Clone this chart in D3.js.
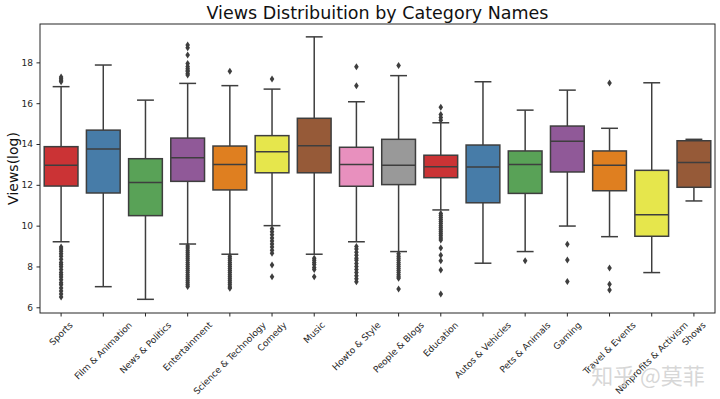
<!DOCTYPE html>
<html><head><meta charset="utf-8">
<script src="https://cdn.jsdelivr.net/npm/d3@7"></script>
<style>body{margin:0;background:#fff}svg{display:block}text{font-family:"DejaVu Sans",sans-serif}</style>
</head><body><svg id="c" width="720" height="399"></svg>
<script>
const categories = ["Sports","Film & Animation","News & Politics","Entertainment","Science & Technology","Comedy","Music","Howto & Style","People & Blogs","Education","Autos & Vehicles","Pets & Animals","Gaming","Travel & Events","Nonprofits & Activism","Shows"];
const whiskerLow  = [9.21, 7.01, 6.39, 9.10, 8.60, 10.00, 8.60, 9.21, 8.73, 10.77, 8.16, 8.73, 9.98, 9.46, 7.70, 11.21];
const q1          = [11.94,11.60,10.49,12.17,11.75,12.59,12.59,11.93,12.01,12.35,11.12,11.58,12.63,11.71,9.48,11.88];
const medians     = [12.96,13.75,12.12,13.33,12.99,13.62,13.92,12.99,12.96,12.89,12.87,12.99,14.13,12.96,10.54,13.10];
const q3          = [13.87,14.68,13.28,14.29,13.90,14.41,15.26,13.84,14.23,13.45,13.95,13.66,14.88,13.66,12.71,14.16];
const whiskerHigh = [16.81,17.87,16.15,16.97,16.86,16.69,19.25,16.07,17.35,15.04,17.05,15.66,16.64,14.77,17.00,14.23];
const outliers = [
  [17.05,17.12,17.2,17.28,8.95,8.85,8.75,8.62,8.5,8.35,8.2,8.1,7.98,7.85,7.7,7.6,7.48,7.35,7.2,7.1,6.95,6.8,6.65,6.5],
  [],
  [],
  [17.38,17.45,17.55,17.62,17.7,17.8,17.95,18.36,18.72,18.85,9.0,8.9,8.8,8.7,8.6,8.5,8.4,8.3,8.2,8.1,8.0,7.9,7.8,7.7,7.6,7.5,7.4,7.3,7.2,7.1,7.02],
  [17.57,8.5,8.4,8.3,8.2,8.1,8.0,7.9,7.8,7.7,7.6,7.5,7.4,7.3,7.2,7.1,7.0,6.93],
  [17.18,9.85,9.7,9.55,9.4,9.25,9.1,8.95,8.8,8.65,8.07,7.5],
  [8.4,8.3,8.2,8.1,7.95,7.85,7.5],
  [17.78,16.86,8.98,8.85,8.7,8.55,8.4,8.3,8.15,8.0,7.85,7.7,7.55,7.4,7.25],
  [17.85,8.62,8.5,8.4,8.3,8.2,8.1,8.0,7.9,7.8,7.7,7.6,7.5,7.42,6.9],
  [15.8,15.45,15.3,15.17,10.6,10.5,10.4,10.3,10.2,10.1,10.0,9.9,9.8,9.7,9.6,9.5,9.4,9.3,8.9,8.55,8.28,7.83,6.65],
  [],
  [8.28],
  [9.09,8.32,7.26],
  [16.99,7.93,7.13,6.85],
  [],
  []
];
const yTicks = [6,8,10,12,14,16,18];
const palette = ["#e41a1c","#377eb8","#4daf4a","#984ea3","#ff7f00","#ffff33","#a65628","#f781bf","#999999"];

const W=720,H=399, m={l:40,r:5,t:24,b:86};
const svg=d3.select("#c");
const x=d3.scaleBand().domain(categories).range([m.l,W-m.r]).padding(0);
const y=d3.scaleLinear().domain([5.72,19.88]).range([H-m.b,m.t]);
const lineC="#3e3e3e";
const colorOf=i=>{const h=d3.hsl(palette[i%palette.length]);h.s*=0.75;return h.formatHex();};

const bw=x.bandwidth()*0.8, cw=bw*0.5;
const g=svg.append("g");
categories.forEach((c,i)=>{
  const cx=x(c)+x.bandwidth()/2;
  const gg=g.append("g");
  gg.append("line").attr("x1",cx).attr("x2",cx).attr("y1",y(q3[i])).attr("y2",y(whiskerHigh[i])).attr("stroke",lineC).attr("stroke-width",1.5);
  gg.append("line").attr("x1",cx).attr("x2",cx).attr("y1",y(q1[i])).attr("y2",y(whiskerLow[i])).attr("stroke",lineC).attr("stroke-width",1.5);
  [whiskerHigh[i],whiskerLow[i]].forEach(v=>gg.append("line").attr("x1",cx-cw/2).attr("x2",cx+cw/2).attr("y1",y(v)).attr("y2",y(v)).attr("stroke",lineC).attr("stroke-width",1.5));
  gg.append("rect").attr("x",cx-bw/2).attr("width",bw).attr("y",y(q3[i])).attr("height",y(q1[i])-y(q3[i]))
    .attr("fill",colorOf(i)).attr("stroke",lineC).attr("stroke-width",1.5);
  gg.append("line").attr("x1",cx-bw/2).attr("x2",cx+bw/2).attr("y1",y(medians[i])).attr("y2",y(medians[i])).attr("stroke",lineC).attr("stroke-width",1.5);
  gg.selectAll("path.fl").data(outliers[i]).enter().append("path").attr("class","fl")
    .attr("d",d=>{const py=y(d);return `M${cx},${py-3.5}L${cx+2.3},${py}L${cx},${py+3.5}L${cx-2.3},${py}Z`;})
    .attr("fill",lineC);
});

// frame
svg.append("rect").attr("x",m.l).attr("y",m.t).attr("width",W-m.l-m.r).attr("height",H-m.t-m.b).attr("fill","none").attr("stroke","#262626").attr("stroke-width",1);

// y axis
const ya=svg.append("g").attr("transform",`translate(${m.l},0)`).call(d3.axisLeft(y).tickValues(yTicks).tickSize(3.5).tickPadding(3.5));
ya.select(".domain").remove();
ya.selectAll("text").attr("font-size",9).attr("fill","#262626").style("font-family","DejaVu Sans");
ya.selectAll("line").attr("stroke","#262626");

// x axis ticks
const xa=svg.append("g").attr("transform",`translate(0,${H-m.b})`).call(d3.axisBottom(x).tickSize(3.5).tickFormat(""));
xa.select(".domain").remove();
xa.selectAll("line").attr("stroke","#262626");
const fs=9, top0=H-m.b+7;
categories.forEach(c=>{
  const cx=x(c)+x.bandwidth()/2;
  const t=svg.append("text").text(c).attr("font-size",fs).attr("fill","#262626").attr("text-anchor","middle").attr("dominant-baseline","central");
  const L=t.node().getComputedTextLength();
  const half=(L+fs*1.1)*Math.SQRT1_2/2;
  t.attr("transform",`translate(${cx},${top0+half}) rotate(-45)`);
});

// title & label
svg.append("text").text("Views Distribuition by Category Names").attr("x",(m.l+W-m.r)/2).attr("y",19).attr("text-anchor","middle").attr("font-size",17.5).attr("fill","#111");
svg.append("text").text("Views(log)").attr("transform",`translate(18,${(m.t+H-m.b)/2}) rotate(-90)`).attr("text-anchor","middle").attr("font-size",14).attr("fill","#111");

// watermark
svg.append("text").text("知乎 @莫菲").attr("x",648).attr("y",384).attr("text-anchor","middle").attr("font-size",22)
  .style("font-family","'Noto Sans CJK SC',sans-serif").attr("fill","#d0d0d0").attr("fill-opacity",0.85);
</script></body></html>
